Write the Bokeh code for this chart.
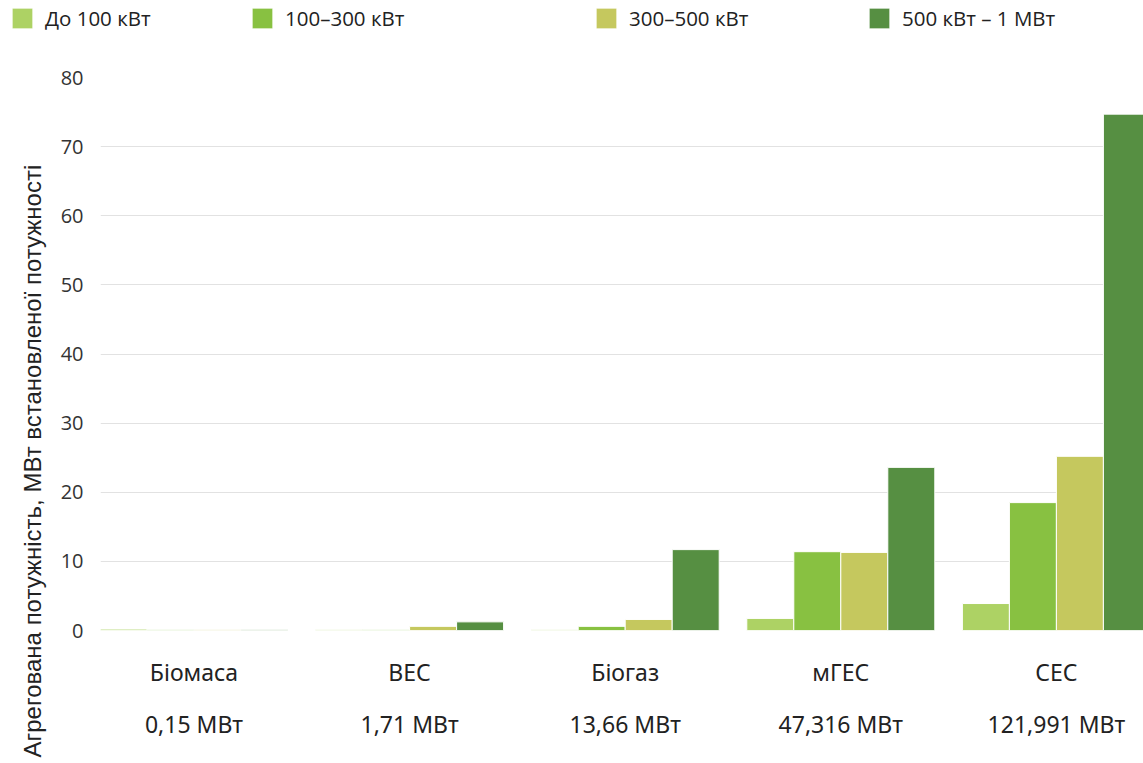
from bokeh.plotting import figure
from bokeh.layouts import column
from bokeh.models import Range1d, FixedTicker, Legend, LegendItem, Title
from bokeh.embed import file_html
from bokeh.resources import INLINE

categories = ["Біомаса", "ВЕС", "Біогаз", "мГЕС", "СЕС"]
totals = ["0,15 МВт", "1,71 МВт", "13,66 МВт", "47,316 МВт", "121,991 МВт"]
series_names = ["До 100 кВт", "100–300 кВт", "300–500 кВт", "500 кВт – 1 МВт"]
s_upto100 = [0.2, 0.1, 0.1, 1.75, 3.9]
s_100_300 = [0.1, 0.1, 0.6, 11.4, 18.5]
s_300_500 = [0.1, 0.6, 1.6, 11.3, 25.2]
s_500_1000 = [0.1, 1.25, 11.7, 23.6, 74.7]
y_ticks = [0, 10, 20, 30, 40, 50, 60, 70, 80]
colors = ["#add264", "#88c141", "#c5c85e", "#568f42"]
y_title = "Агрегована потужність, МВт встановленої потужності"

series = [s_upto100, s_100_300, s_300_500, s_500_1000]

W = 1143
LEG_H = 50
MAIN_H = 713

# ---- legend strip ----
pl = figure(width=W, height=LEG_H, output_backend="svg", toolbar_location=None, tools="",
            x_range=Range1d(0, 1), y_range=Range1d(0, 1), x_axis_type=None, y_axis_type=None,
            min_border=0)
pl.min_border_left = 0
pl.min_border_right = 0
pl.min_border_top = 0
pl.min_border_bottom = 0
pl.frame_align = False
pl.outline_line_color = None
pl.xgrid.visible = False
pl.ygrid.visible = False
legend_x = [9, 249, 593, 866]
for k, (name, col, lx) in enumerate(zip(series_names, colors, legend_x)):
    # placeholder bar kept outside the visible range; only its legend swatch shows
    r = pl.vbar(x=[5 + k], top=[1], width=1, fill_color=col, line_color="white", line_width=1)
    lg = Legend(items=[LegendItem(label=name, renderers=[r])], location=(lx, 18),
                orientation="horizontal", glyph_width=26, glyph_height=26,
                label_height=26, label_standoff=10, padding=0, margin=0, spacing=0,
                border_line_alpha=0, background_fill_alpha=0,
                label_text_font="Open Sans", label_text_font_size="20.5px",
                label_text_color="#222222")
    pl.add_layout(lg)

# ---- main chart ----
p = figure(width=W, height=MAIN_H, output_backend="svg", toolbar_location=None, tools="",
           x_range=Range1d(-0.4337, 4.404), y_range=Range1d(0, 80))
p.min_border_left = 100
p.min_border_right = 0
p.min_border_top = 27
p.min_border_bottom = 133
p.frame_align = False
p.outline_line_color = None

bw = 0.218
for k, (vals, col) in enumerate(zip(series, colors)):
    off = (k - 1.5) * bw
    xs = [i + off for i in range(len(categories))]
    p.vbar(x=xs, top=vals, width=bw, bottom=0, fill_color=col, line_color="white", line_width=1)

p.xaxis.ticker = FixedTicker(ticks=list(range(len(categories))))
p.xaxis.major_label_overrides = {i: f"{c}\n\n{t}" for i, (c, t) in enumerate(zip(categories, totals))}
p.xaxis.axis_line_color = None
p.xaxis.major_tick_line_color = None
p.xaxis.minor_tick_line_color = None
p.xaxis.major_label_standoff = 19
p.xaxis.major_label_text_font = "Noto Sans"
p.xaxis.major_label_text_font_size = "23px"
p.xaxis.major_label_text_color = "#222222"
p.xaxis.major_label_text_line_height = 0.82

p.yaxis.ticker = FixedTicker(ticks=y_ticks)
p.yaxis.axis_line_color = None
p.yaxis.major_tick_line_color = None
p.yaxis.minor_tick_line_color = None
p.yaxis.major_label_standoff = 11
p.yaxis.major_label_text_font = "Open Sans"
p.yaxis.major_label_text_font_size = "20px"
p.yaxis.major_label_text_color = "#333333"

p.xgrid.grid_line_color = None
p.ygrid.ticker = FixedTicker(ticks=y_ticks[1:])
p.ygrid.grid_line_color = "#e2e2e2"
p.ygrid.grid_line_width = 1

t = Title(text=y_title, align="left", vertical_align="top", offset=-127, standoff=20,
          text_font="Liberation Sans", text_font_size="24px",
          text_font_style="normal", text_color="#222222")
p.add_layout(t, "left")

layout = column(pl, p, spacing=0)
open("out.html", "w").write(file_html(layout, INLINE))
